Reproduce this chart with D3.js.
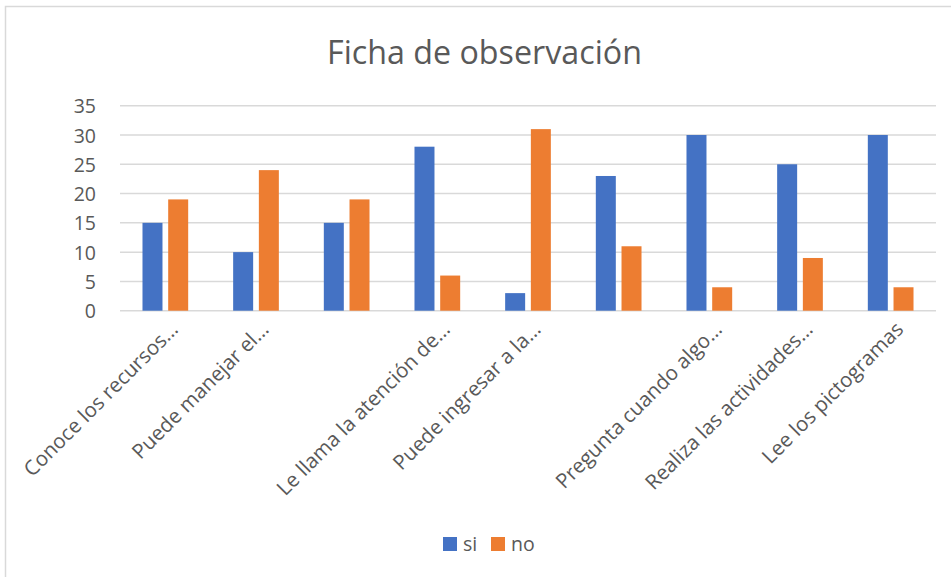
<!DOCTYPE html>
<html>
<head>
<meta charset="utf-8">
<script src="https://cdn.jsdelivr.net/npm/d3@7"></script>
<style>
  body { margin: 0; background: #fff; }
  text { font-family: "Open Sans", "Noto Sans", sans-serif; fill: #595959; }
</style>
</head>
<body>
<div id="chart"></div>
<script>
const width = 951
const height = 577

const categories = [
  'Conoce los recursos…',
  'Puede manejar el…',
  '',
  'Le llama la atención de…',
  'Puede ingresar a la…',
  '',
  'Pregunta cuando algo…',
  'Realiza las actividades…',
  'Lee los pictogramas'
]
const si = [15, 10, 15, 28, 3, 23, 30, 25, 30]
const no = [19, 24, 19, 6, 31, 11, 4, 9, 4]
const yTicks = [0, 5, 10, 15, 20, 25, 30, 35]
const seriesNames = ['si', 'no']
const colors = ['#4472C4', '#ED7D31']

const margin = { left: 120, right: 15, top: 105.7, bottom: 266.3 }

const svg = d3.select('#chart')
  .append('svg')
  .attr('width', width)
  .attr('height', height)

// chart frame
svg.append('rect')
  .attr('x', 5.5)
  .attr('y', 6.5)
  .attr('width', width + 20)
  .attr('height', height + 20)
  .attr('fill', 'none')
  .attr('stroke', '#d9d9d9')
  .attr('stroke-width', 1.5)

const x = d3.scaleBand()
  .domain(d3.range(categories.length))
  .range([margin.left, width - margin.right])

const y = d3.scaleLinear()
  .domain([0, 35])
  .range([height - margin.bottom, margin.top])

const sub = d3.scaleBand()
  .domain(seriesNames)
  .range([0, x.bandwidth()])
  .paddingInner(0.222)
  .paddingOuter(0.875)

// gridlines
svg.append('g')
  .selectAll('line')
  .data(yTicks)
  .enter().append('line')
  .attr('x1', margin.left)
  .attr('x2', width - margin.right)
  .attr('y1', d => y(d))
  .attr('y2', d => y(d))
  .attr('stroke', '#d9d9d9')
  .attr('stroke-width', 1.5)

// y axis labels
const yAxis = svg.append('g')
  .attr('transform', `translate(${margin.left - 24},0)`)
  .call(d3.axisLeft(y).tickValues(yTicks).tickSize(0).tickPadding(0))
yAxis.select('.domain').remove()
yAxis.selectAll('text')
  .attr('font-size', 19.5)
  .attr('dy', '0.36em')
  .style('font-family', '"Open Sans", sans-serif')
  .attr('fill', '#595959')

// bars
const groups = svg.append('g')
  .selectAll('g')
  .data(categories.map((c, i) => ({ i: i, values: [si[i], no[i]] })))
  .enter().append('g')
  .attr('transform', d => `translate(${x(d.i)},0)`)

groups.selectAll('rect')
  .data(d => d.values.map((v, k) => ({ key: seriesNames[k], v: v, k: k })))
  .enter().append('rect')
  .attr('x', d => sub(d.key))
  .attr('width', sub.bandwidth())
  .attr('y', d => y(d.v))
  .attr('height', d => y(0) - y(d.v))
  .attr('fill', d => colors[d.k])

// x axis labels
svg.append('g')
  .selectAll('text')
  .data(categories)
  .enter().append('text')
  .attr('text-anchor', 'end')
  .attr('font-size', 20.5)
  .attr('transform', (d, i) => `translate(${x(i) + x.bandwidth() / 2 + 14},${y(0) + 20}) rotate(-45)`)
  .text(d => d)

// title
const title = svg.append('text')
  .attr('x', 484.5)
  .attr('y', 64)
  .attr('text-anchor', 'middle')
  .attr('font-size', 30)
  .text('Ficha de observación')
const tw = title.node().getComputedTextLength()
title.attr('font-size', 30 * 315 / tw)

// legend
const legend = svg.append('g')
  .selectAll('g')
  .data(seriesNames)
  .enter().append('g')
  .attr('transform', (d, i) => `translate(${443 + i * 48},537)`)

legend.append('rect')
  .attr('width', 14)
  .attr('height', 14)
  .attr('fill', (d, i) => colors[i])

legend.append('text')
  .attr('x', 20)
  .attr('y', 14)
  .attr('font-size', 19.5)
  .text(d => d)
</script>
</body>
</html>
